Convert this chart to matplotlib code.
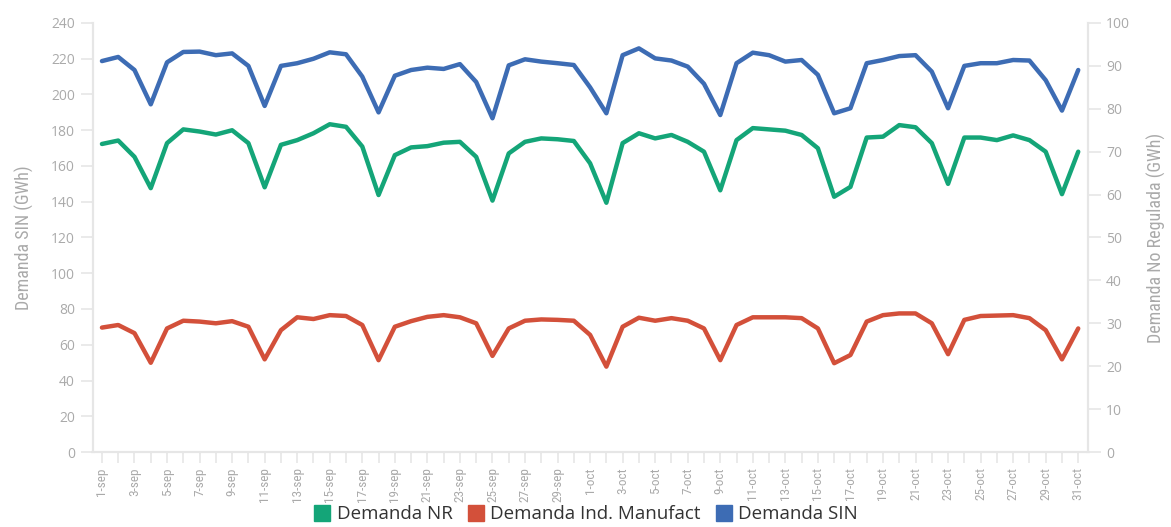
import matplotlib
matplotlib.use("Agg")
import matplotlib.pyplot as plt
from matplotlib.lines import Line2D
from matplotlib.ticker import MultipleLocator
from matplotlib import font_manager

# ---- data ----
dates = [f"{d}-sep" for d in range(1, 31)] + [f"{d}-oct" for d in range(1, 32)]

demanda_sin = [
    218.7, 221.0, 213.7, 194.5, 218.0, 223.8, 224.0, 222.0, 223.0, 216.0,
    193.6, 216.0, 217.5, 220.0, 223.6, 222.5, 210.0, 190.0, 210.5, 213.7,
    215.0, 214.3, 217.0, 207.0, 186.7, 216.3, 219.7, 218.4, 217.5, 216.5,
    204.0, 189.5, 222.0, 225.8, 220.2, 219.0, 215.6, 206.0, 188.5, 217.5,
    223.4, 222.0, 218.4, 219.3, 211.0, 189.5, 192.3, 217.5, 219.3, 221.5,
    222.0, 212.8, 192.3, 216.0, 217.5, 217.5, 219.3, 219.0, 208.0, 191.0,
    213.7,
]

demanda_nr = [
    71.8, 72.6, 68.8, 61.5, 72.0, 75.2, 74.7, 74.0, 75.0, 72.0,
    61.7, 71.6, 72.7, 74.3, 76.4, 75.8, 71.2, 59.9, 69.2, 71.0,
    71.3, 72.1, 72.3, 68.8, 58.6, 69.6, 72.3, 73.1, 72.9, 72.5,
    67.3, 58.1, 72.0, 74.3, 73.1, 73.9, 72.3, 70.0, 61.0, 72.7,
    75.5, 75.2, 74.9, 73.9, 70.8, 59.5, 61.8, 73.3, 73.5, 76.2,
    75.7, 72.0, 62.5, 73.3, 73.3, 72.7, 73.8, 72.7, 70.0, 60.1,
    70.0,
]

demanda_ind = [
    29.0, 29.6, 27.7, 20.8, 28.8, 30.6, 30.4, 30.0, 30.5, 29.2,
    21.6, 28.4, 31.4, 31.0, 31.9, 31.7, 29.6, 21.4, 29.2, 30.5,
    31.5, 31.9, 31.4, 30.0, 22.4, 28.8, 30.6, 30.9, 30.8, 30.6,
    27.3, 19.9, 29.2, 31.3, 30.6, 31.2, 30.6, 28.8, 21.4, 29.6,
    31.4, 31.4, 31.4, 31.2, 28.8, 20.7, 22.6, 30.4, 31.9, 32.3,
    32.3, 30.0, 22.8, 30.8, 31.7, 31.8, 31.9, 31.2, 28.4, 21.6,
    28.8,
]

series_names = ["Demanda NR", "Demanda Ind. Manufact", "Demanda SIN"]
colors = ["#14a578", "#d3503a", "#3d6cb4"]

left_ticks = list(range(0, 241, 20))
right_ticks = list(range(0, 101, 10))

# condensed font if available
names = {f.name for f in font_manager.fontManager.ttflist}
narrow_family = None
for cand in ["Liberation Sans Narrow", "DejaVu Sans Condensed", "Roboto Condensed",
             "Open Sans Condensed"]:
    if cand in names:
        narrow_family = cand
        break
narrow = [narrow_family, "DejaVu Sans"] if narrow_family else ["DejaVu Sans"]

# ---- figure ----
fig = plt.figure(figsize=(11.71, 5.27), dpi=100)
ax = fig.add_axes([93 / 1171, 1 - 452 / 527, (1088 - 93) / 1171, (452 - 23) / 527])
ax2 = ax.twinx()

x = list(range(len(dates)))
lw = 3.2
ax2.plot(x, demanda_nr, color=colors[0], lw=lw, solid_joinstyle="round", solid_capstyle="round", zorder=3)
ax2.plot(x, demanda_ind, color=colors[1], lw=lw, solid_joinstyle="round", solid_capstyle="round", zorder=3)
ax.plot(x, demanda_sin, color=colors[2], lw=lw, solid_joinstyle="round", solid_capstyle="round", zorder=3)

ax.set_xlim(-0.55, len(dates) - 1 + 0.6)
ax.set_ylim(0, 240)
ax2.set_ylim(0, 100)
ax.set_yticks(left_ticks)
ax2.set_yticks(right_ticks)

ax.set_xticks(x[::2])
ax.set_xticklabels(dates[::2], rotation=90)
ax.xaxis.set_minor_locator(MultipleLocator(1))

grid_grey = "#e6e6e6"
label_grey = "#aaaaaa"

for a in (ax, ax2):
    a.spines["top"].set_visible(False)
    for s in ("left", "right", "bottom"):
        a.spines[s].set_color(grid_grey)
        a.spines[s].set_linewidth(1.5)
    a.tick_params(axis="y", length=9, width=1.2, color=grid_grey, labelcolor=label_grey,
                  labelsize=10, pad=4)
    a.set_facecolor("none")

ax.tick_params(axis="x", which="major", length=8, width=1.2, color=grid_grey,
               labelcolor=label_grey, labelsize=9.5, pad=3)
ax.tick_params(axis="x", which="minor", length=8, width=1.2, color=grid_grey)
for t in ax.get_xticklabels():
    t.set_fontfamily(narrow)
    t.set_fontstretch("condensed")
for t in ax.get_yticklabels() + ax2.get_yticklabels():
    t.set_fontfamily(["Open Sans", "DejaVu Sans"])

ax.set_ylabel("Demanda SIN (GWh)", color=label_grey, fontsize=13, family=narrow,
              fontstretch="condensed", labelpad=12)
ax2.set_ylabel("Demanda No Regulada (GWh)", color=label_grey, fontsize=13, family=narrow,
               fontstretch="condensed", rotation=90, labelpad=12)

handles = [Line2D([0], [0], marker="s", linestyle="none", markersize=12,
                  markerfacecolor=c, markeredgecolor=c) for c in colors]
leg = fig.legend(handles, series_names, loc="center", bbox_to_anchor=(0.5, 0.024), ncol=3,
                 frameon=False, handletextpad=0.3, columnspacing=0.7, handlelength=1.0,
                 borderpad=0.1, prop={"family": ["Open Sans", "DejaVu Sans"], "size": 13.5})
for t in leg.get_texts():
    t.set_color("#333333")

fig.savefig("out.png", dpi=100)
